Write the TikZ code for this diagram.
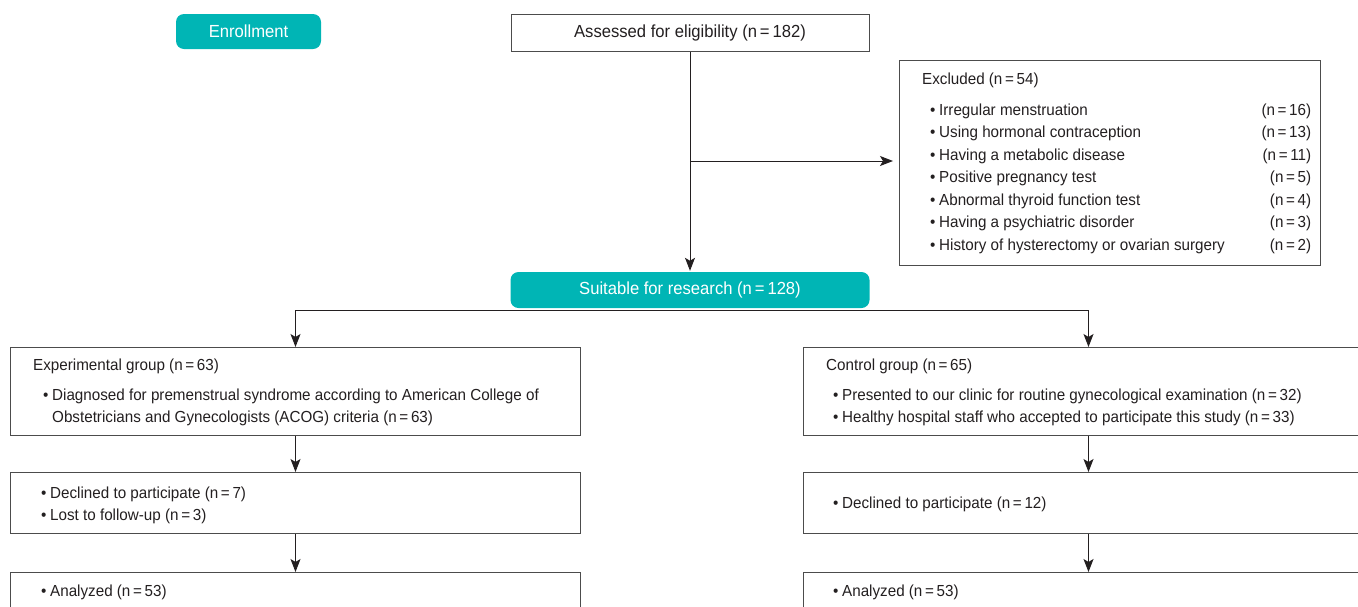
\documentclass[tikz,border=0pt]{standalone}
\usepackage{fontspec}
\setmainfont{Liberation Sans}[FakeStretch=0.95]
\usetikzlibrary{arrows.meta,positioning}
\definecolor{tealbox}{RGB}{0,181,181}
\definecolor{ink}{RGB}{35,31,32}
\newcommand{\bul}{\makebox[9pt][l]{\textbullet}}
\newcommand{\rows}[1]{\begin{tabular}[t]{@{}l@{}}#1\end{tabular}}
\newcommand{\nn}[1]{(n\,=\,#1)}
\tikzset{
  box/.style={draw=black!70,line width=1pt,anchor=north west,inner sep=0},
  tbox/.style={fill=tealbox,rounded corners=8pt,text=white,font=\fontsize{17.5}{21}\selectfont,inner sep=0},
  txt/.style={anchor=base west,inner sep=0,text=ink},
  arr/.style={-{Stealth[length=13pt,width=10pt,inset=3pt]},line width=1pt,draw=ink}
}
\begin{document}
\begin{tikzpicture}[x=1pt,y=-1pt,font=\fontsize{16}{22.5}\selectfont]
\useasboundingbox (0,0) rectangle (1358,606);
\clip (0,0) rectangle (1358,606);
% top row
\node[tbox,minimum width=145pt,minimum height=35pt] (enrol) at (248.5,31.5) {Enrollment};
\node[draw=black!70,line width=1pt,minimum width=358pt,minimum height=37pt,inner sep=0,text=ink,font=\fontsize{17.5}{21}\selectfont] (assess) at (690,32.5) {Assessed for eligibility \nn{182}};
% excluded
\node[box,minimum width=421pt,minimum height=205pt] (excl) at (899,60) {};
\node[txt] (exclt) at (922,84) {\begin{tabular*}{389pt}[t]{@{}l@{\extracolsep{\fill}}r@{}}
  \multicolumn{2}{@{}l}{Excluded \nn{54}}\\[8.5pt]
  \hspace*{8pt}\bul Irregular menstruation & \nn{16}\\
  \hspace*{8pt}\bul Using hormonal contraception & \nn{13}\\
  \hspace*{8pt}\bul Having a metabolic disease & \nn{11}\\
  \hspace*{8pt}\bul Positive pregnancy test & \nn{5}\\
  \hspace*{8pt}\bul Abnormal thyroid function test & \nn{4}\\
  \hspace*{8pt}\bul Having a psychiatric disorder & \nn{3}\\
  \hspace*{8pt}\bul History of hysterectomy or ovarian surgery & \nn{2}
\end{tabular*}};
\node[tbox,minimum width=359pt,minimum height=36pt] (suit) at (690,290) {Suitable for research \nn{128}};
% experimental side
\node[box,minimum width=570pt,minimum height=88pt] (exp) at (10,347) {};
\node[txt] (expt) at (33,370) {\rows{Experimental group \nn{63}\\[7.5pt]
  \hspace*{10pt}\bul Diagnosed for premenstrual syndrome according to American College of\\
  \hspace*{19pt}Obstetricians and Gynecologists (ACOG) criteria \nn{63}}};
\node[box,minimum width=570pt,minimum height=61pt] (drop1) at (10,472) {};
\node[txt] (drop1t) at (41,498) {\rows{\bul Declined to participate \nn{7}\\ \bul Lost to follow-up \nn{3}}};
\node[box,minimum width=570pt,minimum height=40pt] (ana1) at (10,572) {};
\node[txt] (ana1t) at (41,596) {\bul Analyzed \nn{53}};
% control side
\node[box,minimum width=570pt,minimum height=88pt] (ctl) at (803,347) {};
\node[txt] (ctlt) at (826,370) {\rows{Control group \nn{65}\\[7.5pt]
  \hspace*{7pt}\bul Presented to our clinic for routine gynecological examination \nn{32}\\
  \hspace*{7pt}\bul Healthy hospital staff who accepted to participate this study \nn{33}}};
\node[box,minimum width=570pt,minimum height=61pt] (drop2) at (803,472) {};
\node[txt] (drop2t) at (833,508) {\bul Declined to participate \nn{12}};
\node[box,minimum width=570pt,minimum height=40pt] (ana2) at (803,572) {};
\node[txt] (ana2t) at (833,596) {\bul Analyzed \nn{53}};
% connectors
\draw[arr,shorten >=1pt] (assess) -- (suit);
\coordinate (br) at (690,161);
\draw[arr,shorten >=6pt] (br) -- (br -| excl.west);
\coordinate (fk) at ([yshift=-2pt]suit.south);
\draw[draw=ink,line width=1pt] (fk -| exp.north) -- (fk -| ctl.north);
\draw[arr] (fk -| exp.north) -- (exp.north);
\draw[arr] (fk -| ctl.north) -- (ctl.north);
\draw[arr] (exp) -- (drop1);
\draw[arr] (drop1) -- (ana1);
\draw[arr] (ctl) -- (drop2);
\draw[arr] (drop2) -- (ana2);
\end{tikzpicture}
\end{document}
